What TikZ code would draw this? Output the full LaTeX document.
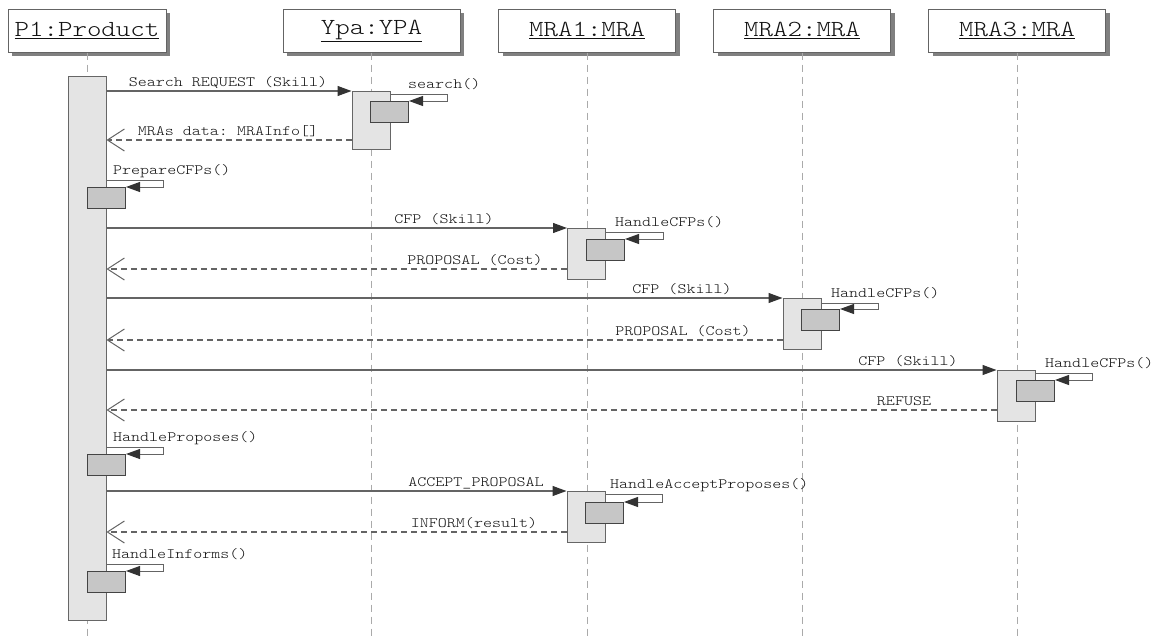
\documentclass[tikz,border=0pt]{standalone}
\usepackage{fontspec}
\setmonofont{lmmonolt10-regular.otf}[FakeStretch=1.2]
\usetikzlibrary{arrows.meta,shadows}
\definecolor{lifec}{HTML}{AAAAAA}
\definecolor{msgc}{HTML}{646464}
\definecolor{tipc}{HTML}{333333}
\definecolor{actfill}{HTML}{E4E4E4}
\definecolor{actdraw}{HTML}{666666}
\definecolor{innfill}{HTML}{C6C6C6}
\definecolor{inndraw}{HTML}{444444}
\definecolor{txtc}{HTML}{111111}
\begin{document}
\begin{tikzpicture}[x=1pt,y=-1pt,
  hdr/.style={draw=msgc, fill=white, line width=1pt, minimum height=43pt, inner sep=0pt,
    text=txtc, font=\fontsize{23}{28}\selectfont\ttfamily,
    drop shadow={shadow xshift=4pt, shadow yshift=-4pt, fill=black!50, opacity=1}},
  life/.style={draw=lifec, line width=1pt, dash pattern=on 7pt off 5pt},
  act/.style={draw=actdraw, fill=actfill, line width=1pt, minimum width=38pt, inner sep=0pt, anchor=north},
  inn/.style={draw=inndraw, fill=innfill, line width=1pt, minimum width=38pt, minimum height=21pt, inner sep=0pt, anchor=north west},
  call/.style={draw=msgc, line width=1.1pt, -{Triangle[length=14pt,width=10pt,color=tipc]}},
  ret/.style={draw=msgc, line width=1.1pt, dash pattern=on 6pt off 4pt, -{Straight Barb[length=17pt,width=22pt,line width=1pt]}},
  selfc/.style={draw=msgc, line width=1pt, -{Triangle[length=14pt,width=10pt,color=tipc]}},
  lbl/.style={inner sep=0pt, text=txtc, font=\fontsize{14.3}{18}\selectfont\ttfamily, anchor=base},
  slbl/.style={lbl, anchor=base west}
]
\useasboundingbox (0,0) rectangle (1158,637);

% headers
\node[hdr, minimum width=158pt] (hp) at (87,30.5) {\underline{P1:Product}};
\node[hdr, minimum width=177pt] (hy) at (371.5,30.5) {\underline{Ypa:YPA}};
\node[hdr, minimum width=177pt] (hm1) at (587,30.5) {\underline{MRA1:MRA}};
\node[hdr, minimum width=177pt] (hm2) at (802,30.5) {\underline{MRA2:MRA}};
\node[hdr, minimum width=177pt] (hm3) at (1017,30.5) {\underline{MRA3:MRA}};

% lifelines
\coordinate (bot) at (0,637);
\draw[life] (hp.south) -- (hp.south |- bot);
\draw[life] (hy.south) -- (hy.south |- bot);
\draw[life] (hm1.south) -- (hm1.south |- bot);
\draw[life] (hm2.south) -- (hm2.south |- bot);
\draw[life] (hm3.south) -- (hm3.south |- bot);

% activations
\node[act, minimum height=544pt] (pa) at (87,76) {};
\node[act, minimum height=58pt] (ya) at (371,91) {};
\node[act, minimum height=51pt] (m1a) at (586.5,228) {};
\node[act, minimum height=51pt] (m2a) at (802,298) {};
\node[act, minimum height=51pt] (m3a) at (1016,370) {};
\node[act, minimum height=51pt] (m1b) at (586,491) {};

% inner (self-call) boxes
\node[inn] (yi) at (370,101) {};
\node[inn] (pi1) at (87,187) {};
\node[inn] (m1i) at (586,239) {};
\node[inn] (m2i) at (801,309) {};
\node[inn] (m3i) at (1016,380) {};
\node[inn] (pi2) at (87,454) {};
\node[inn] (m1j) at (585,502) {};
\node[inn] (pi3) at (87,571) {};

% self calls
\draw[selfc] (ya.east |- 0,94) -- ++(57,0) |- (yi.north east);
\draw[selfc] (pa.east |- 0,180) -- ++(57,0) |- (pi1.north east);
\draw[selfc] (m1a.east |- 0,232) -- ++(57,0) |- (m1i.north east);
\draw[selfc] (m2a.east |- 0,303) -- ++(57,0) |- (m2i.north east);
\draw[selfc] (m3a.east |- 0,373) -- ++(57,0) |- (m3i.north east);
\draw[selfc] (pa.east |- 0,447) -- ++(57,0) |- (pi2.north east);
\draw[selfc] (m1b.east |- 0,494) -- ++(57,0) |- (m1j.north east);
\draw[selfc] (pa.east |- 0,564) -- ++(57,0) |- (pi3.north east);

\node[slbl] (ls1) at (408,88) {search()};
\node[slbl] (ls2) at (113,174) {PrepareCFPs()};
\node[slbl] (ls3) at (615,226) {HandleCFPs()};
\node[slbl] (ls4) at (831,297) {HandleCFPs()};
\node[slbl] (ls5) at (1045,367) {HandleCFPs()};
\node[slbl] (ls6) at (113,441) {HandleProposes()};
\node[slbl] (ls7) at (610,488) {HandleAcceptProposes()};
\node[slbl] (ls8) at (112,558) {HandleInforms()};

% messages
\draw[call] (pa.east |- ya.north) -- (ya.north west);
\draw[ret] (ya.west |- 0,140) -- (pa.east |- 0,140);
\draw[call] (pa.east |- m1a.north) -- (m1a.north west);
\draw[ret] (m1a.west |- 0,269) -- (pa.east |- 0,269);
\draw[call] (pa.east |- m2a.north) -- (m2a.north west);
\draw[ret] (m2a.west |- 0,340) -- (pa.east |- 0,340);
\draw[call] (pa.east |- m3a.north) -- (m3a.north west);
\draw[ret] (m3a.west |- 0,410) -- (pa.east |- 0,410);
\draw[call] (pa.east |- m1b.north) -- (m1b.north west);
\draw[ret] (m1b.west |- 0,532) -- (pa.east |- 0,532);

\node[lbl] (l1) at (228,86) {Search REQUEST (Skill)};
\node[lbl] (l2) at (228,135) {MRAs data: MRAInfo[]};
\node[lbl] (l3) at (444,223) {CFP (Skill)};
\node[lbl] (l4) at (475,264) {PROPOSAL (Cost)};
\node[lbl] (l5) at (682,293) {CFP (Skill)};
\node[lbl] (l6) at (683,335) {PROPOSAL (Cost)};
\node[lbl] (l7) at (908,365) {CFP (Skill)};
\node[lbl] (l8) at (904,405) {REFUSE};
\node[lbl] (l9) at (476,486) {ACCEPT\_PROPOSAL};
\node[lbl] (l10) at (474,527) {INFORM(result)};
\end{tikzpicture}
\end{document}
